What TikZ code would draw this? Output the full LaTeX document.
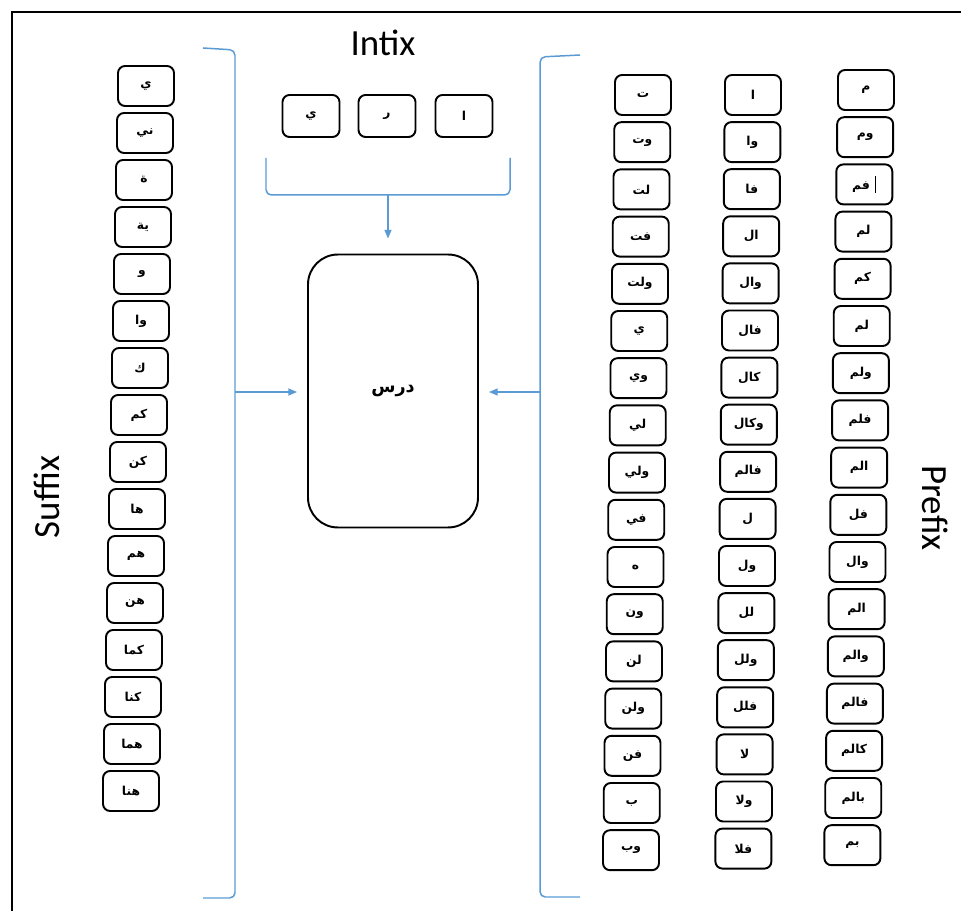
\documentclass[tikz,border=0pt]{standalone}
\usepackage{fontspec}
\setmainfont{Carlito}
\newfontfamily\arabicfont[Script=Arabic]{DejaVu Sans}
\TeXXeTstate=1
\usepackage{tikz}
\usetikzlibrary{positioning, arrows.meta}
\definecolor{braceblue}{HTML}{5B9BD5}
\newcommand{\arw}[1]{{\arabicfont\bfseries\beginR #1\endR}}
\newcommand{\editbar}{\rule[-2pt]{0.7pt}{10pt}\hspace{3pt}}

\begin{document}
\begin{tikzpicture}[
    x=0.02cm, y=-0.02cm,
    affixbox/.style={rectangle, rounded corners=4pt, draw=black, fill=white, line width=1.1pt,
      minimum width=1.12cm, minimum height=0.8cm, inner sep=0pt, font=\fontsize{7}{8}\selectfont},
    stembox/.style={rectangle, rounded corners=17pt, draw=black, line width=1.1pt,
      minimum width=3.4cm, minimum height=5.46cm, font=\fontsize{10}{12}\selectfont},
    grouplab/.style={font=\fontsize{21}{25}\selectfont, inner sep=0pt},
    brace/.style={draw=braceblue, line width=0.85pt, rounded corners=3pt},
    bluearrow/.style={-{Triangle[length=5pt, width=4pt]}, draw=braceblue, line width=0.85pt}
  ]
  \useasboundingbox (0,0) rectangle (961,911);
  % frame
  \draw[line width=0.85pt] (961,12) -- (12,12) -- (12,911);
  % Stem
  \node[stembox] (stem) at (393,391) {\arw{درس}};
  % Infix
  \node[grouplab] (inflab) at (383,43) {Intix};
  \node[affixbox, minimum width=1.14cm, minimum height=0.84cm] (inf1) at (311,116) {\arw{ي}};
  \node[affixbox, minimum width=1.14cm, minimum height=0.84cm] (inf2) at (387,116) {\arw{ر}};
  \node[affixbox, minimum width=1.14cm, minimum height=0.84cm] (inf3) at (464,116) {\arw{ا}};
  \draw[brace] (266,158) -- (266,195) -- (510,195) -- (510,158);
  \coordinate (infbr) at (388,195);
  \draw[bluearrow, shorten >=0.3cm] (infbr) -- (stem.north -| infbr);
  % Suffix
  \node[grouplab, rotate=90] (suflab) at (47,497) {Suffix};
  \foreach \w [count=\i from 0] in {ي,ني,ة,ية,و,وا,ك,كم,كن,ها,هم,هن,كما,كنا,هما,هنا}
    \node[affixbox] (suf\i) at ({146-\i},{86+47*\i}) {\arw{\w}};
  \draw[brace] (203,48) -- (235,50) -- (235,898) -- (203,898);
  \coordinate (sufbr) at (235,392);
  \draw[bluearrow, shorten >=0.2cm] (sufbr) -- (stem.west |- sufbr);
  % Prefix
  \node[grouplab, rotate=-90] (prelab) at (935,508) {Prefix};
  \foreach \w [count=\i from 0] in {ت,وت,لت,فت,ولت,ي,وي,لي,ولي,في,ه,ون,لن,ولن,فن,ب,وب}
    \node[affixbox] (prea\i) at ({643-0.75*\i},{95+47.2*\i}) {\arw{\w}};
  \foreach \w [count=\i from 0] in {ا,وا,فا,ال,وال,فال,كال,وكال,فالم,ل,ول,لل,ولل,فلل,لا,ولا,فلا}
    \node[affixbox] (preb\i) at ({753-0.6*\i},{95+47.1*\i}) {\arw{\w}};
  \foreach \w [count=\i from 0] in {م,وم,\editbar فم,لم,كم,لم,ولم,فلم,الم,فل,وال,الم,والم,فالم,كالم,بالم,بم}
    \node[affixbox] (prec\i) at ({866-0.85*\i},{90+47.2*\i}) {\arw{\w}};
  \draw[brace] (580,55) -- (540,57) -- (540,897) -- (580,897);
  \coordinate (prebr) at (540,392);
  \draw[bluearrow, shorten >=0.2cm] (prebr) -- (stem.east |- prebr);
\end{tikzpicture}
\end{document}
